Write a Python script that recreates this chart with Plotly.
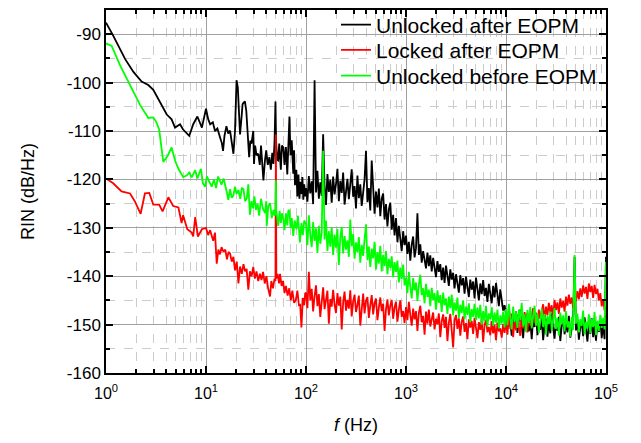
import numpy as np
import plotly.graph_objects as go

# ---------------------------------------------------------------------------
# Relative intensity noise spectra (dB/Hz) versus Fourier frequency (Hz)
# ---------------------------------------------------------------------------

SERIES_NAMES = ["Unlocked after EOPM", "Locked after EOPM", "Unlocked before EOPM"]
SERIES_COLORS = ["#000000", "#ff0000", "#00ff00"]

X_TICKS = [1, 10, 100, 1000, 10000, 100000]
X_TICK_TEXT = ["10<sup>0</sup>", "10<sup>1</sup>", "10<sup>2</sup>",
               "10<sup>3</sup>", "10<sup>4</sup>", "10<sup>5</sup>"]
Y_TICKS = [-160, -150, -140, -130, -120, -110, -100, -90]
Y_TICK_TEXT = ["-160", "-150", "-140", "-130", "-120", "-110", "-100", "-90"]

# ---- Unlocked after EOPM --------------------------------------------------
BLACK_LOW_F = [1, 1.18, 1.55, 1.88, 2.27, 2.65, 2.97, 3.47, 4.05, 4.53, 4.9,
               5.5, 5.9, 6.8, 7.45, 8.2, 9.1]
BLACK_LOW = [-87.6, -90.3, -95.1, -97.8, -99.8, -100.5, -101.5, -103.9, -106.6,
             -107.6, -109.3, -108.6, -109.7, -111.0, -108.6, -107.0, -109.3]
BLACK_MID_F = [10.0, 10.5, 11.0, 11.7, 12.3, 13.0, 13.8, 14.4, 14.8, 15.3,
               16.0, 16.7, 17.4, 18.1, 18.8, 19.5, 20.2, 20.8, 21.4, 21.9,
               22.7, 23.2, 23.7, 24.5, 25.3, 26.0, 27.0, 27.8, 28.5, 29.7,
               30.2, 31.0, 32.0, 33.3, 34.5, 35.5, 36.5, 37.5, 38.9, 40.0,
               41.5, 43.0, 44.5, 46.0, 47.3, 48.5, 49.5, 50.2, 51.5, 52.7,
               54.0, 56.0, 57.5, 59.4, 61.0, 63.0, 65.0, 67.0, 68.3, 70.0,
               72.0, 74.6, 76.0, 77.6, 80.0, 82.0, 84.0, 86.0, 88.0, 90.0,
               92.0, 94.0, 96.0, 98.0]
BLACK_MID = [-105.4, -107.5, -108.6, -108.2, -110.0, -109.5, -111.3, -112.5, -114.1, -111.0,
             -109.0, -110.5, -109.9, -112.0, -114.7, -110.0, -99.5, -101.0, -106.0, -110.7,
             -107.0, -104.5, -104.2, -103.9, -105.9, -110.0, -115.4, -112.0, -112.6, -110.0,
             -116.8, -113.0, -115.0, -114.7, -117.0, -113.0, -118.0, -120.2, -116.0, -114.0,
             -117.0, -115.4, -118.0, -114.5, -116.8, -112.0, -103.9, -112.0, -116.0, -116.1,
             -112.6, -118.0, -113.0, -113.4, -117.0, -113.3, -119.0, -109.0, -107.0, -115.0,
             -111.9, -118.8, -114.0, -121.2, -118.0, -123.5, -119.0, -124.0, -120.5, -123.0,
             -119.5, -124.2, -121.0, -123.5]
BLACK_D2 = [-121.8, -124.6, -119.3, -122.9, -120.4, -125.1, -99.5, -122.7, -118.2, -124.0,
            -120.6, -123.4, -110.7, -121.5, -125.3, -118.9, -122.6, -120.1, -124.8, -119.4,
            -123.1, -121.0, -117.8, -124.5, -120.3, -122.8, -118.6, -125.2, -121.7, -119.9,
            -124.1, -120.8, -117.9, -123.6, -121.4, -126.0, -119.2, -123.9, -121.0, -125.5,
            -122.3, -120.0, -114.1, -124.7, -121.8, -126.4, -116.1, -123.2, -127.1, -122.5,
            -125.8, -121.9, -127.6, -124.0, -122.9, -128.3, -125.1, -129.7, -126.2, -124.8,
            -130.4, -127.3, -131.6, -128.0, -133.0, -129.6, -131.9, -134.8, -130.7, -133.6]
BLACK_D3 = [-131.6, -135.4, -132.9, -136.8, -133.5, -131.8, -136.1, -134.2, -127.0, -135.6,
            -133.4, -137.2, -134.8, -136.5, -138.4, -135.1, -137.9, -135.7, -139.0, -136.2,
            -138.3, -140.2, -136.9, -139.1, -137.5, -140.8, -138.2, -141.4, -137.8, -139.9,
            -142.0, -138.6, -140.7, -139.3, -142.5, -139.6, -141.3, -143.4, -139.8, -141.9,
            -140.4, -143.6, -140.1, -142.2, -144.3, -140.7, -142.8, -141.1, -144.6, -140.3,
            -142.9, -145.0, -141.5, -143.7, -140.8, -144.1, -142.4, -145.3, -141.6, -143.2,
            -145.6, -142.0, -144.4, -141.4, -143.9, -146.2, -142.7, -145.4, -147.1, -146.0]
BLACK_D4 = [-147.8, -150.9, -146.6, -149.4, -152.3, -148.1, -150.6, -147.3, -151.7, -149.0,
            -146.9, -150.2, -152.8, -148.5, -150.0, -147.6, -151.4, -149.2, -153.0, -148.7,
            -150.5, -147.9, -152.2, -149.6, -151.1, -148.3, -153.2, -150.1, -148.8, -152.5,
            -149.4, -151.8, -147.7, -150.7, -152.9, -149.1, -151.3, -148.4, -153.4, -150.3,
            -148.6, -152.0, -149.8, -151.6, -148.2, -152.7, -150.4, -149.0, -136.0, -151.2,
            -148.9, -153.1, -150.6, -149.3, -152.4, -148.5, -151.0, -153.5, -149.7, -151.9,
            -148.7, -152.6, -150.2, -153.3, -149.5, -151.5, -148.9, -152.8, -150.0, -153.0]
BLACK_END = -136.0

# ---- Locked after EOPM ----------------------------------------------------
RED_LOW_F = [1, 1.18, 1.43, 1.74, 1.95, 2.22, 2.45, 2.71, 2.97, 3.4, 3.68,
             4.2, 4.7, 5.3, 5.7, 5.9, 6.5, 7.2, 7.45, 7.8, 8.3, 9.1]
RED_LOW = [-119.8, -120.8, -122.5, -122.9, -124.6, -127.1, -122.9, -122.8, -125.2,
           -125.2, -126.6, -123.7, -125.5, -125.8, -129.0, -127.4, -130.3, -131.0,
           -131.8, -127.8, -131.8, -130.3]
RED_MID_F = [10.0, 10.5, 11.0, 11.8, 12.3, 12.8, 13.3, 13.8, 14.3, 15.0,
             15.6, 16.2, 16.8, 17.4, 18.1, 18.8, 19.5, 20.3, 21.1, 21.9,
             22.8, 23.7, 24.6, 25.5, 26.5, 27.5, 28.6, 29.7, 30.8, 32.0,
             33.3, 34.6, 35.9, 37.2, 38.7, 40.2, 41.8, 43.7, 45.0, 46.7,
             48.5, 49.5, 50.0, 50.5, 52.0, 53.8, 55.0, 57.0, 59.0, 61.0,
             63.0, 65.5, 68.0, 70.5, 73.0, 76.0, 79.0, 82.0, 85.0, 87.5,
             90.0, 93.0, 96.0, 98.0]
RED_MID = [-130.0, -131.5, -130.5, -132.7, -131.0, -137.4, -134.5, -135.5, -134.0, -135.0,
           -134.5, -136.5, -135.0, -135.3, -137.0, -136.0, -138.8, -137.0, -141.5, -138.0,
           -139.5, -137.5, -139.0, -138.5, -142.8, -139.0, -140.0, -138.1, -140.5, -139.0,
           -141.0, -139.5, -140.8, -139.1, -141.5, -140.0, -142.5, -144.2, -141.0, -142.5,
           -140.5, -141.0, -110.7, -140.5, -139.5, -141.5, -139.5, -142.0, -141.0, -143.5,
           -142.0, -144.0, -142.5, -145.0, -143.0, -145.5, -145.0, -143.0, -146.0, -145.9,
           -150.6, -144.5, -146.0, -143.6]
RED_D2 = [-143.4, -146.6, -139.1, -145.0, -142.6, -147.3, -144.1, -141.9, -146.2, -143.7,
          -148.4, -144.5, -142.3, -146.8, -145.1, -143.0, -149.8, -144.7, -146.3, -142.8,
          -145.9, -147.6, -143.5, -146.1, -144.2, -151.0, -145.4, -143.2, -147.1, -144.9,
          -146.7, -142.9, -148.3, -145.2, -143.8, -147.4, -145.9, -144.0, -150.2, -146.3,
          -143.6, -147.7, -145.0, -144.3, -148.6, -146.0, -143.9, -147.9, -145.5, -144.6,
          -149.1, -146.5, -144.4, -147.2, -145.7, -151.3, -146.8, -144.8, -148.1, -146.1,
          -144.9, -148.8, -146.4, -145.3, -149.4, -146.9, -145.0, -148.4, -147.2, -149.7]
RED_D3 = [-146.4, -149.1, -145.3, -148.0, -150.2, -146.7, -148.9, -147.2, -151.3, -147.6,
          -146.1, -149.5, -148.2, -152.1, -147.3, -149.8, -146.9, -150.4, -148.6, -147.5,
          -151.0, -148.8, -149.9, -147.7, -152.6, -149.3, -147.9, -150.7, -148.4, -153.4,
          -149.6, -147.8, -151.2, -154.7, -149.1, -148.0, -150.9, -148.7, -152.3, -149.4,
          -148.3, -151.5, -149.7, -153.0, -148.9, -150.6, -149.2, -151.9, -148.6, -150.3,
          -152.8, -149.5, -151.1, -148.8, -153.6, -150.1, -149.0, -151.6, -150.5, -152.2,
          -149.3, -151.8, -150.0, -153.2, -149.6, -151.4, -150.8, -152.7, -149.9, -151.7]
RED_D4 = [-149.3, -152.1, -148.0, -150.9, -147.7, -152.6, -149.1, -151.2, -147.9, -150.5,
          -152.3, -148.6, -150.8, -147.4, -149.9, -151.6, -147.8, -150.2, -148.3, -146.6,
          -149.7, -147.5, -150.3, -146.9, -148.8, -147.2, -145.8, -149.0, -146.3, -148.1,
          -145.5, -147.6, -146.0, -148.7, -144.9, -147.0, -145.4, -147.8, -144.6, -146.5,
          -145.1, -147.3, -144.2, -146.1, -143.8, -145.7, -144.4, -146.6, -143.4, -145.2,
          -143.1, -144.8, -142.5, -144.3, -141.9, -143.6, -142.2, -144.7, -141.5, -143.3,
          -142.0, -144.5, -141.8, -143.7, -142.6, -145.0, -143.5, -146.2, -144.8, -147.0]
RED_END = -148.0

# ---- Unlocked before EOPM -------------------------------------------------
GREEN_LOW_F = [1, 1.14, 1.38, 1.74, 2.19, 2.65, 2.97, 3.16, 3.4, 3.74, 4.14, 4.53,
               4.9, 5.3, 5.9, 6.4, 6.8, 7.2, 7.8, 8.2, 8.9, 9.3, 9.8]
GREEN_LOW = [-91.9, -92.4, -96.4, -100.5, -104.6, -107.3, -107.2, -108.0, -109.7,
             -116.4, -115.1, -113.4, -116.1, -117.8, -119.5, -119.2, -118.6, -119.6,
             -118.1, -119.8, -117.8, -120.8, -121.5]
GREEN_MID_F = [10.2, 10.8, 11.4, 12.0, 12.6, 13.2, 13.8, 14.3, 15.0, 15.5,
               16.1, 16.7, 17.4, 18.1, 18.8, 19.5, 20.2, 21.1, 22.0, 22.8,
               23.7, 24.6, 25.6, 26.5, 27.5, 28.5, 29.5, 30.5, 31.6, 32.8,
               34.0, 35.5, 37.0, 38.9, 40.0, 40.5, 42.0, 43.7, 45.5, 47.3,
               48.7, 49.5, 50.0, 50.5, 51.5, 52.7, 54.5, 56.0, 57.5, 59.4,
               61.0, 63.0, 65.0, 66.5, 68.3, 70.0, 72.0, 74.6, 77.0, 80.4,
               83.0, 85.0, 87.0, 90.0, 93.0, 96.0]
GREEN_MID = [-119.4, -120.5, -121.5, -120.0, -121.8, -119.4, -120.5, -121.1, -119.8, -120.8,
             -122.5, -124.2, -122.0, -123.8, -123.3, -121.5, -123.0, -122.2, -124.0, -121.8,
             -122.0, -124.5, -123.9, -121.0, -127.3, -124.5, -126.0, -123.5, -126.3, -125.0,
             -127.5, -124.0, -126.0, -126.9, -124.5, -129.6, -125.5, -124.9, -128.0, -126.3,
             -127.5, -126.0, -120.2, -126.5, -128.0, -129.6, -126.5, -129.0, -127.0, -128.3,
             -130.5, -127.0, -129.5, -126.5, -126.3, -130.0, -128.0, -131.7, -128.5, -130.3,
             -127.5, -131.0, -133.0, -129.0, -131.5, -128.5]
GREEN_D2 = [-129.2, -133.6, -127.4, -131.5, -134.0, -128.8, -132.7, -130.1, -135.2, -129.6,
            -133.3, -131.0, -114.1, -132.4, -128.5, -134.8, -130.7, -133.9, -129.9, -135.6,
            -131.4, -134.1, -130.2, -137.7, -132.0, -129.8, -135.3, -131.7, -134.5, -132.6,
            -136.0, -128.3, -133.8, -131.3, -136.4, -133.0, -135.1, -131.9, -137.2, -133.5,
            -135.8, -132.4, -129.3, -136.7, -133.9, -138.1, -134.3, -136.3, -132.9, -138.6,
            -135.0, -137.4, -133.7, -139.0, -135.6, -137.9, -134.8, -139.6, -136.4, -138.3,
            -135.9, -140.2, -137.1, -139.1, -136.8, -141.3, -138.2, -140.6, -137.6, -141.9]
GREEN_D3 = [-140.3, -143.5, -139.1, -142.2, -144.6, -140.4, -142.9, -141.3, -145.1, -141.8,
            -139.7, -143.9, -142.5, -145.6, -141.6, -144.3, -142.8, -146.2, -142.4, -144.9,
            -143.5, -146.9, -142.9, -145.5, -143.9, -147.4, -143.4, -146.0, -144.6, -147.8,
            -144.2, -146.6, -143.8, -148.1, -145.4, -147.1, -144.4, -148.6, -145.9, -147.6,
            -145.0, -148.9, -146.3, -148.0, -145.6, -149.5, -146.8, -148.4, -145.7, -149.1,
            -146.5, -148.7, -145.9, -150.0, -147.2, -149.3, -146.1, -150.4, -147.7, -148.9,
            -146.4, -150.2, -147.5, -149.6, -146.9, -150.8, -148.1, -149.8, -147.3, -150.6]
GREEN_D4 = [-146.8, -150.1, -145.7, -148.7, -151.0, -146.3, -149.5, -147.4, -150.7, -146.9,
            -149.1, -145.5, -150.4, -147.9, -151.5, -147.0, -149.7, -146.4, -150.8, -148.3,
            -146.1, -150.2, -147.6, -151.7, -148.5, -146.7, -150.5, -147.8, -152.1, -148.2,
            -149.9, -147.3, -151.2, -149.0, -146.6, -150.9, -148.6, -152.3, -147.5, -150.0,
            -148.1, -151.4, -147.2, -150.6, -149.3, -152.5, -148.4, -151.1, -135.6, -149.8,
            -147.7, -151.6, -148.9, -150.3, -147.1, -152.0, -149.4, -150.8, -147.9, -151.8,
            -148.8, -150.5, -147.4, -152.2, -149.2, -151.3, -148.0, -150.7, -148.6, -151.0]
GREEN_END = -137.0


def decade_freqs(exp_lo, n):
    """Log-spaced analysis frequencies covering one decade [10^exp_lo, 10^(exp_lo+1))."""
    return np.geomspace(10.0 ** exp_lo, 10.0 ** (exp_lo + 1), n, endpoint=False)


def build_spectrum(low_f, low_v, mid_f, mid_v, decades, end_v):
    freq = list(low_f) + list(mid_f)
    rin = list(low_v) + list(mid_v)
    for k, vals in enumerate(decades):
        freq += list(decade_freqs(2 + k, len(vals)))
        rin += list(vals)
    freq.append(1e5)
    rin.append(end_v)
    return np.array(freq), np.array(rin)


spectra = [
    build_spectrum(BLACK_LOW_F, BLACK_LOW, BLACK_MID_F, BLACK_MID,
                   [BLACK_D2, BLACK_D3, BLACK_D4], BLACK_END),
    build_spectrum(RED_LOW_F, RED_LOW, RED_MID_F, RED_MID,
                   [RED_D2, RED_D3, RED_D4], RED_END),
    build_spectrum(GREEN_LOW_F, GREEN_LOW, GREEN_MID_F, GREEN_MID,
                   [GREEN_D2, GREEN_D3, GREEN_D4], GREEN_END),
]

# one legend box per trace so the rows sit close together
legend_ids = ["legend", "legend2", "legend3"]
legend_rows = [0.959, 0.889, 0.818]

fig = go.Figure()
for (f, rin), name, color, lid in zip(spectra, SERIES_NAMES, SERIES_COLORS, legend_ids):
    fig.add_trace(go.Scatter(x=f, y=rin, mode="lines", name=name, legend=lid,
                             showlegend=True,
                             line=dict(color=color, width=1.8)))

x_minor = [m * 10 ** d for d in range(5) for m in range(2, 10)]

fig.update_xaxes(
    type="log", range=[0, 5],
    tickmode="array", tickvals=X_TICKS, ticktext=X_TICK_TEXT,
    ticks="inside", ticklen=7, tickwidth=1.5, tickcolor="black",
    showline=True, linewidth=1.5, linecolor="black", mirror="allticks",
    showgrid=True, gridcolor="#a0a0a0", gridwidth=1, zeroline=False,
    minor=dict(tickmode="array", tickvals=x_minor, ticks="inside", ticklen=4,
               tickcolor="black", showgrid=True, gridcolor="#cccccc",
               griddash="dash", gridwidth=1),
    tickfont=dict(size=16), ticklabelstandoff=5,
    title=dict(text="<i>f</i> (Hz)", font=dict(size=18), standoff=17),
)
fig.update_yaxes(
    range=[-160, -85],
    tickmode="array", tickvals=Y_TICKS, ticktext=Y_TICK_TEXT,
    ticks="inside", ticklen=7, tickwidth=1.5, tickcolor="black",
    showline=True, linewidth=1.5, linecolor="black", mirror="allticks",
    showgrid=True, gridcolor="#a0a0a0", gridwidth=1, zeroline=False,
    minor=dict(dtick=5, tick0=-160, ticks="inside", ticklen=4, tickcolor="black",
               showgrid=True, gridcolor="#cccccc", griddash="dash", gridwidth=1),
    tickfont=dict(size=17),
    title=dict(text="RIN (dB/Hz)", font=dict(size=18), standoff=28),
)

legend_style = dict(x=0.46, xanchor="left", yanchor="middle",
                    bgcolor="rgba(0,0,0,0)", font=dict(size=21), itemwidth=30,
                    visible=True)
fig.update_layout(
    width=641, height=443,
    margin=dict(l=106, r=35, t=4, b=70),
    paper_bgcolor="white", plot_bgcolor="white",
    font=dict(family="Liberation Sans, Arial, sans-serif", color="black"),
    showlegend=True,
    legend=dict(y=legend_rows[0], **legend_style),
    legend2=dict(y=legend_rows[1], **legend_style),
    legend3=dict(y=legend_rows[2], **legend_style),
)

fig.write_html("out.html")
